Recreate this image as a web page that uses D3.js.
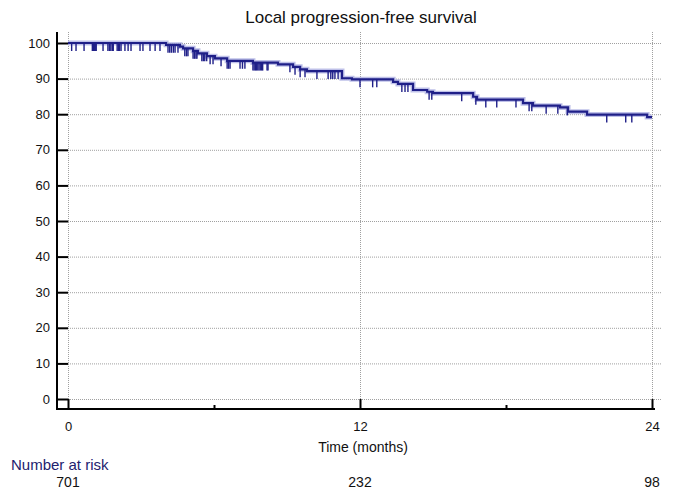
<!DOCTYPE html>
<html>
<head>
<meta charset="utf-8">
<script src="https://cdn.jsdelivr.net/npm/d3@7"></script>
<style>
  body { margin: 0; background: #fff; }
  text { font-family: Arial, "Liberation Sans", sans-serif; }
</style>
</head>
<body>
<script>
// Kaplan-Meier: local progression-free survival

// step times (months) and survival (%) after each step
var stepTimes = [0, 4.03, 4.60, 4.73, 5.14, 5.34, 5.71, 6.04, 6.54, 7.60, 8.63, 9.25, 9.54, 9.82,
                 11.26, 11.67, 13.36, 13.56, 14.18, 14.76, 15.00, 16.65, 16.81, 18.70, 19.11,
                 20.22, 20.55, 21.33, 23.80];
var stepSurv  = [100, 99.5, 99.0, 98.5, 97.8, 97.1, 96.3, 95.7, 95.0, 94.5, 94.0, 93.3, 92.6, 92.1,
                 90.1, 89.8, 89.1, 88.5, 86.8, 86.3, 85.9, 84.9, 84.1, 83.1, 82.4,
                 81.9, 80.7, 79.9, 79.2];
var endTime = 24;

// censored observations (months)
var censorTimes = [0.15, 0.33, 0.66, 1.0, 1.04, 1.08, 1.12, 1.16, 1.44, 1.64, 1.7, 1.76, 1.82, 1.86,
                   2.02, 2.07, 2.12, 2.18, 2.34, 2.47, 2.59, 2.96, 3.08, 3.37, 3.58, 3.78,
                   4.11, 4.18, 4.25, 4.33, 4.4, 4.52, 4.8, 4.87, 4.93, 5.14, 5.2, 5.26, 5.3,
                   5.5, 5.56, 5.62, 5.7, 5.84, 5.96, 6.29, 6.54, 6.6, 6.66, 7.07, 7.17, 7.27,
                   7.6, 7.65, 7.7, 7.75, 7.8, 7.85, 7.9, 7.95, 8.0, 8.18, 8.22, 9.12, 9.33,
                   9.54, 9.74, 10.23, 10.69, 10.8, 10.88, 10.97, 11.1, 12.0, 12.52, 12.69,
                   13.72, 13.85, 13.97, 14.84, 14.95, 16.18, 16.76, 17.17, 17.62, 18.41,
                   18.95, 19.06, 19.65, 20.13, 20.52, 22.14, 22.92, 23.17];

var yTicks = [0, 10, 20, 30, 40, 50, 60, 70, 80, 90, 100];
var xMajor = [0, 12, 24];
var xMinor = [6, 18];
var riskTimes = [0, 12, 24];
var riskCounts = ["701", "232", "98"];

var w = 673, h = 492;
var axisX = 57, axisY = 409;

var x = d3.scaleLinear().domain([0, 24]).range([68, 652]);
var y = d3.scaleLinear().domain([0, 100]).range([399, 43]);

var svg = d3.select("body").append("svg")
    .attr("width", w)
    .attr("height", h);

// grid
svg.append("g").selectAll("line")
    .data(yTicks)
    .enter().append("line")
    .attr("x1", x(0)).attr("x2", 661)
    .attr("y1", function(d) { return y(d) + 0.5; })
    .attr("y2", function(d) { return y(d) + 0.5; })
    .attr("stroke", "#a0a0a0")
    .attr("stroke-dasharray", "1,1");

svg.append("g").selectAll("line")
    .data(xMajor)
    .enter().append("line")
    .attr("x1", function(d) { return x(d) + 0.5; })
    .attr("x2", function(d) { return x(d) + 0.5; })
    .attr("y1", 32).attr("y2", axisY)
    .attr("stroke", "#a0a0a0")
    .attr("stroke-dasharray", "1,1");

// y axis
var yAxis = svg.append("g")
    .attr("transform", "translate(" + axisX + ",0)")
    .call(d3.axisLeft(y).tickValues(yTicks).tickSize(-11).tickPadding(7));
yAxis.select(".domain").remove();
yAxis.selectAll(".tick line").attr("stroke", "#000").attr("stroke-width", 2);
yAxis.selectAll("text").attr("font-size", 13).attr("fill", "#111");

// x axis
var xAxis = svg.append("g")
    .attr("transform", "translate(0," + axisY + ")")
    .call(d3.axisBottom(x).tickValues(xMajor).tickSize(-10).tickPadding(13));
xAxis.select(".domain").remove();
xAxis.selectAll(".tick line").attr("stroke", "#000").attr("stroke-width", 2);
xAxis.selectAll("text").attr("font-size", 13).attr("fill", "#111");

var xAxisMinor = svg.append("g")
    .attr("transform", "translate(0," + axisY + ")")
    .call(d3.axisBottom(x).tickValues(xMinor).tickSize(-4).tickFormat(""));
xAxisMinor.select(".domain").remove();
xAxisMinor.selectAll(".tick line").attr("stroke", "#000").attr("stroke-width", 2);

// axis frame lines
svg.append("line")
    .attr("x1", axisX).attr("x2", axisX)
    .attr("y1", 32).attr("y2", axisY + 1)
    .attr("stroke", "#000").attr("stroke-width", 2);
svg.append("line")
    .attr("x1", axisX - 1).attr("x2", 655)
    .attr("y1", axisY).attr("y2", axisY)
    .attr("stroke", "#000").attr("stroke-width", 2);

// survival curve
var pts = stepTimes.map(function(t, i) { return [t, stepSurv[i]]; });
pts.push([endTime, stepSurv[stepSurv.length - 1]]);

var line = d3.line()
    .x(function(d) { return x(d[0]); })
    .y(function(d) { return y(d[1]); })
    .curve(d3.curveStepAfter);

svg.append("path")
    .datum(pts)
    .attr("d", line)
    .attr("fill", "none")
    .attr("stroke", "#aeb0e2")
    .attr("stroke-width", 5)
    .attr("stroke-opacity", 0.8);

svg.append("path")
    .datum(pts)
    .attr("d", line)
    .attr("fill", "none")
    .attr("stroke", "#1f1f88")
    .attr("stroke-width", 2.2);

// censor ticks
var survAt = function(t) {
    var i = d3.bisectRight(stepTimes, t) - 1;
    return stepSurv[Math.max(i, 0)];
};

svg.append("g").selectAll("line")
    .data(censorTimes)
    .enter().append("line")
    .attr("x1", function(d) { return x(d); })
    .attr("x2", function(d) { return x(d); })
    .attr("y1", function(d) { return y(survAt(d)); })
    .attr("y2", function(d) { return y(survAt(d)) + 8; })
    .attr("stroke", "#1f1f88")
    .attr("stroke-width", 1.4);

// title and labels
svg.append("text")
    .attr("x", 361).attr("y", 23)
    .attr("text-anchor", "middle")
    .attr("font-size", 17)
    .attr("fill", "#111")
    .text("Local progression-free survival");

svg.append("text")
    .attr("x", 363).attr("y", 452)
    .attr("text-anchor", "middle")
    .attr("font-size", 14)
    .attr("fill", "#111")
    .text("Time (months)");

svg.append("text")
    .attr("x", 11).attr("y", 470)
    .attr("font-size", 15)
    .attr("fill", "#22226e")
    .text("Number at risk");

svg.append("g").selectAll("text")
    .data(riskCounts)
    .enter().append("text")
    .attr("x", function(d, i) { return x(riskTimes[i]); })
    .attr("y", 487)
    .attr("text-anchor", "middle")
    .attr("font-size", 14)
    .attr("fill", "#111")
    .text(function(d) { return d; });
</script>
</body>
</html>
